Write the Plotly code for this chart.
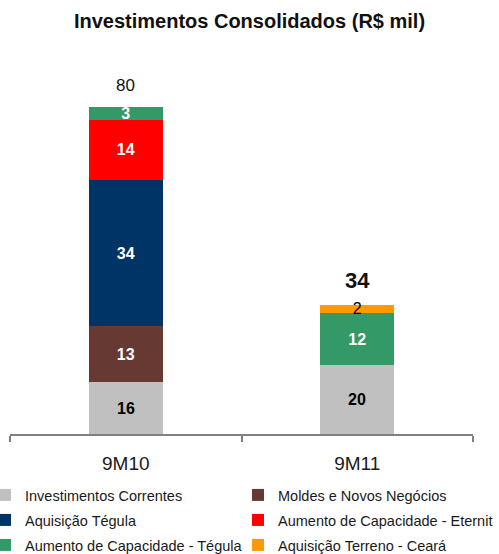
import plotly.graph_objects as go

# ---- data ----
categories = ["9M10", "9M11"]
investimentos_correntes = [16, 20]
moldes_novos_negocios = [13, None]
aquisicao_tegula = [34, None]
aumento_cap_eternit = [14, None]
aumento_cap_tegula = [3, 12]
aquisicao_terreno_ceara = [None, 2]
totals = [80, 34]

series = [
    ("Investimentos Correntes", investimentos_correntes, "#C0C0C0", "#000000", "bold"),
    ("Moldes e Novos Negócios", moldes_novos_negocios, "#663932", "#FFFFFF", "bold"),
    ("Aquisição Tégula", aquisicao_tegula, "#003366", "#FFFFFF", "bold"),
    ("Aumento de Capacidade - Eternit", aumento_cap_eternit, "#FF0000", "#FFFFFF", "bold"),
    ("Aumento de Capacidade - Tégula", aumento_cap_tegula, "#339966", "#FFFFFF", "bold"),
    ("Aquisição Terreno - Ceará", aquisicao_terreno_ceara, "#FF9900", "#000000", "normal"),
]

FONT = "Liberation Sans, Arial, Helvetica, sans-serif"
W, HT = 499, 554
PLOT_LEFT, PLOT_RIGHT = 10, 473
PLOT_TOP, PLOT_BOTTOM = 60, 434
PW = PLOT_RIGHT - PLOT_LEFT
H = PLOT_BOTTOM - PLOT_TOP
AXIS_MIN = 3.95
PX_PER_UNIT = 4.304

fig = go.Figure()
legend_ids = ["legend", "legend2", "legend3", "legend4", "legend5", "legend6"]
for idx, ((name, vals, color, tcolor, weight), leg) in enumerate(zip(series, legend_ids)):
    # the bottom series is cut by the axis; its labels are placed in its visible part below
    show_text = idx != 0
    fig.add_trace(go.Bar(
        x=categories, y=vals, name=name,
        marker=dict(color=color, line=dict(width=0)),
        text=[("" if (v is None or not show_text) else str(v)) for v in vals],
        texttemplate="%{text}",
        textposition="inside", insidetextanchor="middle",
        textangle=0, constraintext="none",
        textfont=dict(family=FONT, size=16, color=tcolor, weight=weight),
        legend=leg, hoverinfo="skip",
    ))

# labels of the bottom (truncated) segment, centred in its visible part
for cat, v in zip(categories, investimentos_correntes):
    fig.add_annotation(x=cat, y=(AXIS_MIN + v) / 2, text=str(v), showarrow=False,
                       yanchor="middle",
                       font=dict(family=FONT, size=16, color="#000000", weight="bold"))

# totals above bars
fig.add_annotation(x=categories[0], y=totals[0], text=str(totals[0]), showarrow=False,
                   yanchor="middle", yshift=21,
                   font=dict(family=FONT, size=17, color="#111111"))
fig.add_annotation(x=categories[1], y=totals[1], text=str(totals[1]), showarrow=False,
                   yanchor="middle", yshift=24,
                   font=dict(family=FONT, size=22, color="#111111", weight="bold"))

# legend grid: 2 columns x 3 rows (pixel positions of each entry's left edge / row centre)
col_left = [-15, 238]
row_center = [495, 520, 545]

legends = {}
for i, leg in enumerate(legend_ids):
    r, c = divmod(i, 2)
    legends[leg] = dict(
        orientation="h", xref="paper", yref="paper",
        xanchor="left", yanchor="middle",
        x=(col_left[c] - PLOT_LEFT) / PW, y=(PLOT_BOTTOM - row_center[r]) / H,
        font=dict(family=FONT, size=14.5, color="#1a1a1a"),
        bgcolor="rgba(0,0,0,0)", borderwidth=0,
    )

fig.update_layout(
    width=W, height=HT,
    margin=dict(l=PLOT_LEFT, r=W - PLOT_RIGHT, t=PLOT_TOP, b=HT - PLOT_BOTTOM,
                autoexpand=False),
    paper_bgcolor="white", plot_bgcolor="white",
    barmode="stack", bargap=0.68,
    title=dict(text="<b>Investimentos Consolidados (R$ mil)</b>",
               x=0.5, xref="container", xanchor="center",
               y=1 - 21 / HT, yref="container", yanchor="middle",
               font=dict(family=FONT, size=20, color="#111111")),
    xaxis=dict(showline=True, linecolor="#808080", linewidth=2,
               ticks="outside", ticklen=6, tickwidth=1.5, tickcolor="#808080",
               tickson="boundaries", showgrid=False, zeroline=False,
               range=[-0.5, 1.5], ticklabelstandoff=11, automargin=False,
               tickfont=dict(family=FONT, size=19, color="#1a1a1a")),
    yaxis=dict(visible=False, range=[AXIS_MIN, AXIS_MIN + H / PX_PER_UNIT]),
    showlegend=True,
    **legends,
)

fig.write_html("out.html",
               config={"displayModeBar": False},
               post_script="document.body.style.margin='0';document.body.style.overflow='hidden';")
